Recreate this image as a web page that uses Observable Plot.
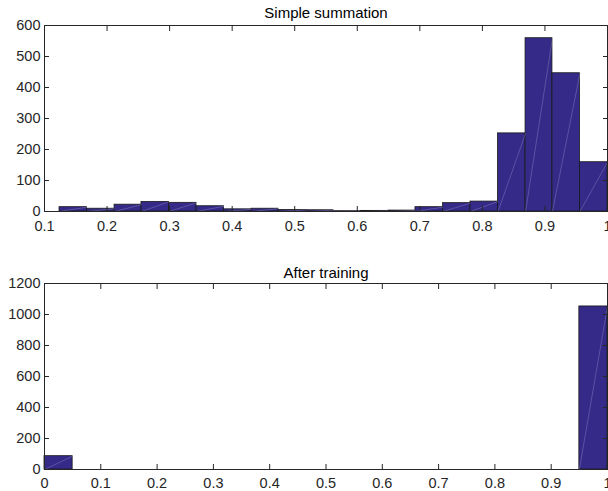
<!DOCTYPE html>
<html>
<head>
<meta charset="utf-8">
<script src="https://cdn.jsdelivr.net/npm/d3@7"></script>
<script src="https://cdn.jsdelivr.net/npm/@observablehq/plot@0.6"></script>
<style>
  html, body { margin: 0; padding: 0; background: white; overflow: hidden; }
  #chart svg { display: block; }
</style>
</head>
<body>
<div id="chart"></div>
<script>
// ---- Data ----
const sumTitle = "Simple summation";
const sumEdges = [0.124, 0.168, 0.212, 0.255, 0.299, 0.343, 0.387, 0.431, 0.474, 0.518, 0.562,
                  0.606, 0.650, 0.693, 0.737, 0.781, 0.825, 0.869, 0.912, 0.956, 1.000];
const sumCounts = [14, 9, 22, 31, 28, 17, 7, 9, 5, 4, 1, 2, 3, 14, 27, 32, 252, 559, 446, 159];
const sumXTicks = [0.1, 0.2, 0.3, 0.4, 0.5, 0.6, 0.7, 0.8, 0.9, 1];
const sumYTicks = [0, 100, 200, 300, 400, 500, 600];

const trainTitle = "After training";
const trainEdges = [0, 0.05, 0.1, 0.15, 0.2, 0.25, 0.3, 0.35, 0.4, 0.45, 0.5,
                    0.55, 0.6, 0.65, 0.7, 0.75, 0.8, 0.85, 0.9, 0.95, 1.0];
const trainCounts = [86, 0, 0, 0, 0, 0, 0, 0, 0, 0, 0, 0, 0, 0, 0, 0, 0, 0, 0, 1052];
const trainXTicks = [0, 0.1, 0.2, 0.3, 0.4, 0.5, 0.6, 0.7, 0.8, 0.9, 1];
const trainYTicks = [0, 200, 400, 600, 800, 1000, 1200];

function toBins(edges, counts) {
  return counts.map((c, i) => ({x1: edges[i], x2: edges[i + 1], y: c}));
}

const fmt = d3.format("~g");

function hist({title, data, xDomain, yDomain, xTicks, yTicks, height, marginTop, marginBottom, xPad, titleDy}) {
  return Plot.plot({
    width: 608,
    height,
    marginTop,
    marginBottom,
    marginLeft: 44,
    marginRight: 1,
    style: {fontFamily: "'Liberation Sans', Arial, sans-serif", fontSize: "14.5px", color: "#262626", background: "white", overflow: "visible"},
    x: {domain: xDomain, label: null},
    y: {domain: yDomain, label: null},
    marks: [
      Plot.rectY(data, {x1: "x1", x2: "x2", y: "y", fill: "#352a87", stroke: "#1a1a1a", strokeWidth: 0.8}),
      Plot.link(data.filter(d => d.y > 0), {x1: "x1", y1: 0, x2: "x2", y2: "y", stroke: "#a09ad8", strokeWidth: 0.6, strokeOpacity: 0.6}),
      Plot.frame({stroke: "#262626"}),
      Plot.axisX(xTicks, {anchor: "bottom", tickSize: 0, tickPadding: xPad, tickFormat: fmt, label: null}),
      Plot.axisX(xTicks, {anchor: "bottom", tickSize: 5, dy: -5, tickFormat: () => "", label: null}),
      Plot.axisX(xTicks, {anchor: "top", tickSize: 5, dy: 5, tickFormat: () => "", label: null}),
      Plot.axisY(yTicks, {anchor: "left", tickSize: 0, tickPadding: 4, tickFormat: fmt, label: null}),
      Plot.axisY(yTicks, {anchor: "left", tickSize: 5, dx: 5, tickFormat: () => "", label: null}),
      Plot.axisY(yTicks, {anchor: "right", tickSize: 5, dx: -5, tickFormat: () => "", label: null}),
      Plot.text([title], {frameAnchor: "top", dy: titleDy, lineAnchor: "bottom", fontSize: 15, fill: "black"})
    ]
  });
}

const chart = document.getElementById("chart");
chart.append(hist({
  title: sumTitle,
  data: toBins(sumEdges, sumCounts),
  xDomain: [0.1, 1], yDomain: [0, 600],
  xTicks: sumXTicks, yTicks: sumYTicks,
  height: 240, marginTop: 25, marginBottom: 29, xPad: 9, titleDy: -8
}));
chart.append(hist({
  title: trainTitle,
  data: toBins(trainEdges, trainCounts),
  xDomain: [0, 1], yDomain: [0, 1200],
  xTicks: trainXTicks, yTicks: trainYTicks,
  height: 251, marginTop: 43, marginBottom: 22, xPad: 8, titleDy: -6
}));
</script>
</body>
</html>
